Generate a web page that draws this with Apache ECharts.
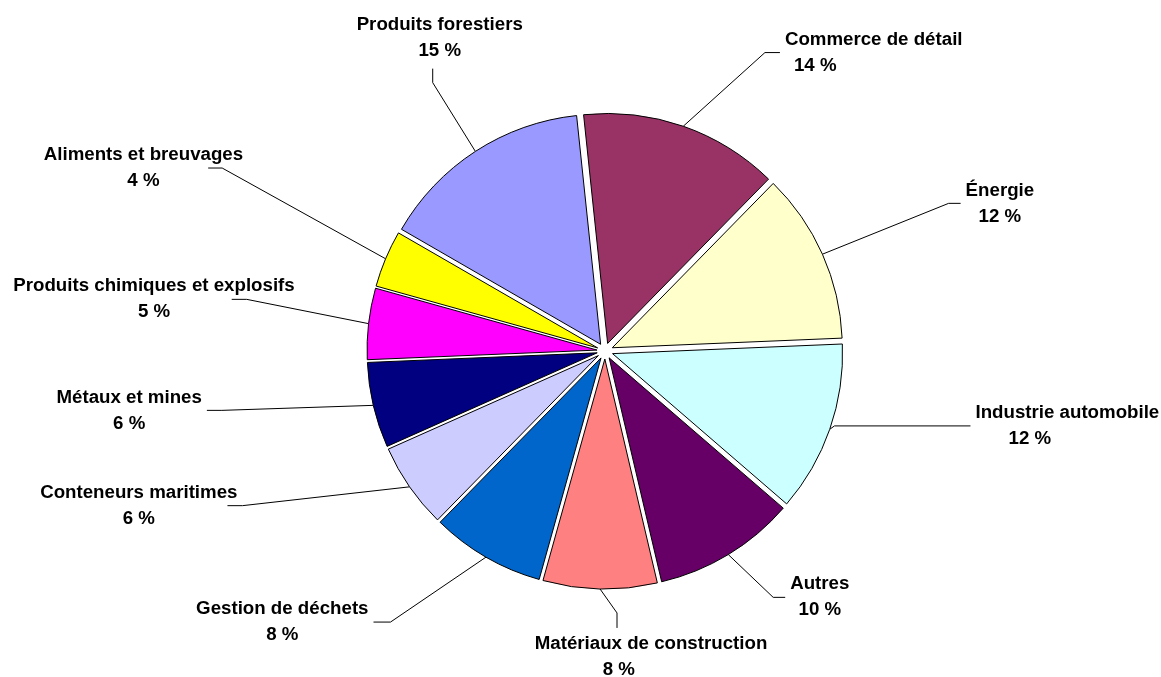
<!DOCTYPE html>
<html><head><meta charset="utf-8">
<script src="https://cdn.jsdelivr.net/npm/echarts@6/dist/echarts.min.js"></script>
<style>html,body{margin:0;padding:0;background:#fff}#c{width:1161px;height:677px}</style>
</head><body><div id="c"></div>
<script>
// Categories in clockwise order, starting just right of 12 o'clock
const categories = ['Commerce de détail', 'Énergie', 'Industrie automobile', 'Autres',
  'Matériaux de construction', 'Gestion de déchets', 'Conteneurs maritimes',
  'Métaux et mines', 'Produits chimiques et explosifs', 'Aliments et breuvages',
  'Produits forestiers'];
const shares = [14, 12, 12, 10, 8, 8, 6, 6, 5, 4, 15];
const colors = ['#993366', '#FFFFCC', '#CCFFFF', '#660066', '#FF8080', '#0066CC',
  '#CCCCFF', '#000080', '#FF00FF', '#FFFF00', '#9999FF'];

// Label leader styling: [length, length2, line shift x, line shift y, extra label shift x, extra label shift y]
const leaders = [
  [78, 15, 56, 0, 0, 0],
  [125, 12, 12, 0, 0, 0],
  [5, 136, 0, -5, 0, 0],
  [50, 12, 19, 0, 0, 0],
  [24, 0, 17.5, 0, 39, 18],
  [75, 17, -58, 0, 0, 0],
  [33, 15, -140, 0, 15, 0],
  [22, 15, -130, 0, 0, 0],
  [20, 15, -102, -22, 68, 0],
  [20, 14, -145, -83, 40, 0],
  [82, 0, 2, 0, 12, -19]
];
// left indent of the percentage line (null = centred)
const pctIndent = [9, null, 33, null, 68, null, null, null, null, null, null];

const font = '"Liberation Sans", Arial, sans-serif';
const FS = 18.7, LH = 26;
const baseText = {fontFamily: font, fontWeight: 'bold', fontSize: FS, lineHeight: LH, color: '#000'};
const rich = {n: Object.assign({align: 'center'}, baseText), c: Object.assign({align: 'center'}, baseText)};
pctIndent.forEach(v => { if (v != null) rich['i' + v] = Object.assign({align: 'left', padding: [0, 0, 0, v]}, baseText); });

const chart = echarts.init(document.getElementById('c'), null, {renderer: 'canvas'});
const data = categories.map((n, i) => ({
  name: n, value: shares[i], selected: true,
  itemStyle: {color: colors[i]},
  labelLine: {length: leaders[i][0], length2: leaders[i][1]}
}));
chart.setOption({
  animation: false,
  series: [{
    type: 'pie',
    center: [605, 351],
    radius: 230,
    startAngle: 96,
    clockwise: true,
    selectedMode: 'multiple',
    selectedOffset: 8,
    avoidLabelOverlap: false,
    itemStyle: {borderColor: '#000', borderWidth: 1},
    select: {itemStyle: {borderColor: '#000', borderWidth: 1}},
    emphasis: {disabled: true},
    label: Object.assign({
      show: true, position: 'outside',
      formatter: p => {
        const ind = pctIndent[p.dataIndex];
        return '{n|' + p.name + '}\n{' + (ind == null ? 'c' : 'i' + ind) + '|' + p.value + ' %}';
      },
      rich: rich
    }, baseText),
    labelLine: {show: true, smooth: false, lineStyle: {color: '#000', width: 1}},
    labelLayout: function (p) {
      const L = leaders[p.dataIndex];
      const pts = p.labelLinePoints;
      const res = {dx: L[2] + L[4], dy: L[3] + L[5]};
      if (!pts) return res;
      const b = [pts[1][0] + L[2], pts[1][1] + L[3]];
      let e;
      if (L[1] === 0) {
        const up = b[1] < pts[0][1];
        e = [b[0], b[1] + (up ? -14 : 15)];
        res.align = 'center';
        res.verticalAlign = up ? 'bottom' : 'top';
      } else {
        e = [pts[2][0] + L[2], pts[2][1] + L[3]];
      }
      res.labelLinePoints = [pts[0], b, e];
      return res;
    },
    data: data
  }]
});
</script></body></html>
